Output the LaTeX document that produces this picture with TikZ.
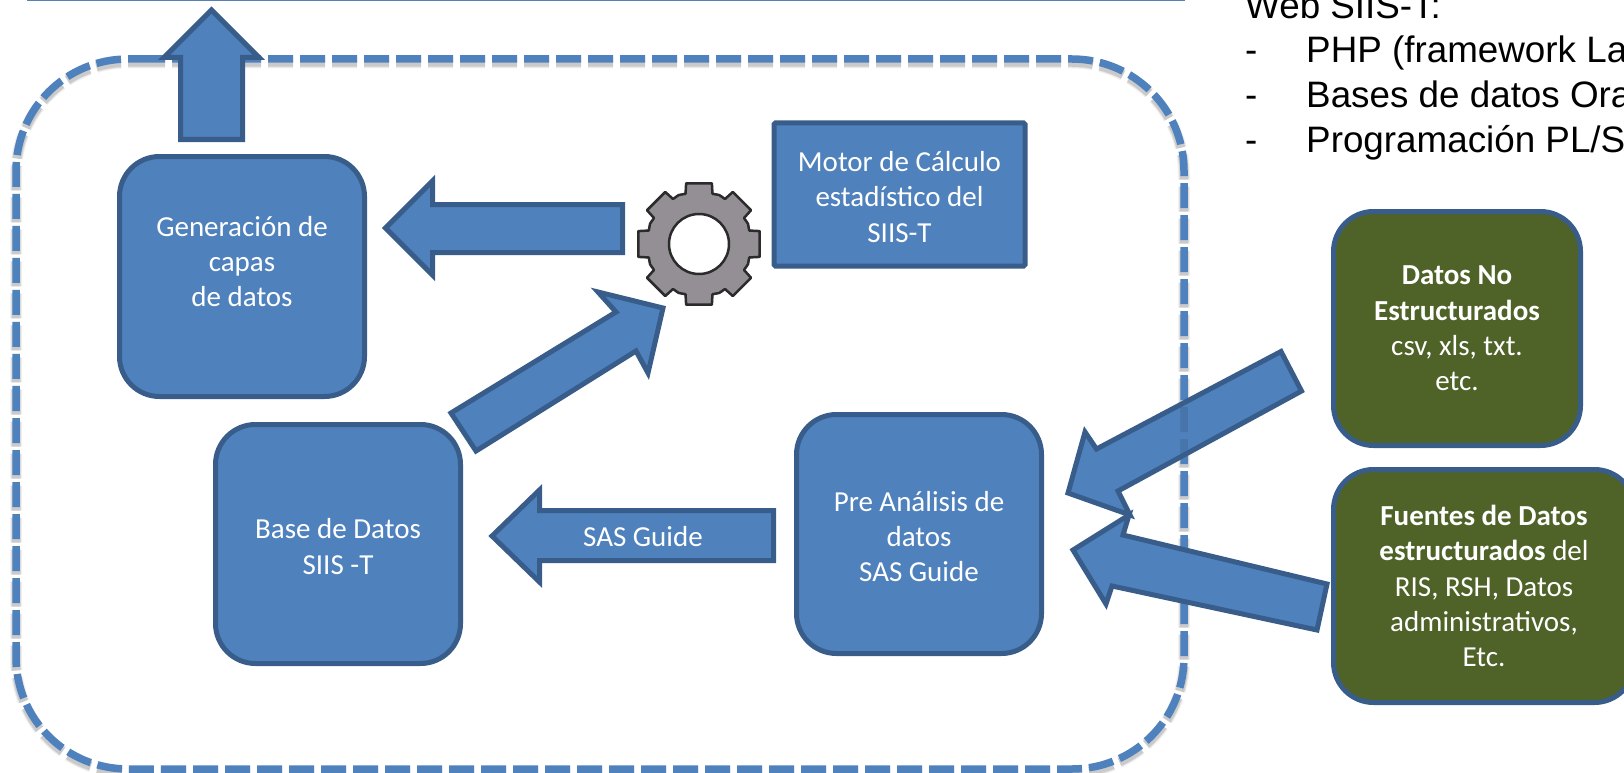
\documentclass[tikz,border=0pt]{standalone}
\usepackage{fontspec}
\setmainfont{Carlito}
\newfontfamily\arialf{Liberation Sans}
\definecolor{blueF}{HTML}{4F81BD}
\definecolor{blueD}{HTML}{385D8A}
\definecolor{olive}{HTML}{4F6228}
\definecolor{gearF}{HTML}{938F94}
\definecolor{gearD}{HTML}{2B2B2B}
\newcommand{\firststrut}{\rule{0pt}{25pt}}
\tikzset{
 x=1pt,y=-1pt,
 bluebox/.style={draw=blueD,line width=5pt,fill=blueF,text=white,rounded corners=40pt,align=center,inner sep=0pt,font=\fontsize{29}{35.3}\selectfont},
 olivebox/.style={bluebox,fill=olive},
 motorbox/.style={bluebox,rounded corners=1.5pt},
 blockarrow/.style={draw=blueD,line width=5pt,fill=blueF,miter limit=10},
 framedash/.style={dash pattern=on 25pt off 7pt},
 lbl/.style={text=white,font=\fontsize{29}{35.3}\selectfont,inner sep=0pt},
 webtext/.style={font=\arialf\fontsize{36.8}{44}\selectfont,anchor=base west,inner sep=0pt,text=black},
}
\newcommand{\framecurve}[1]{(140,59+#1) -- (1072,59+#1) .. controls (1134,59+#1) and (1184,109+#1) .. (1184,171+#1) -- (1184,657+#1) .. controls (1184,719+#1) and (1134,769+#1) .. (1072,769+#1) -- (128,769+#1) .. controls (66,769+#1) and (16,719+#1) .. (16,657+#1) -- (16,171+#1) .. controls (16,109+#1) and (66,59+#1) .. (128,59+#1) -- (140,59+#1)}
\begin{document}
\begin{tikzpicture}
\useasboundingbox (0,0) rectangle (1624,773);
% top rule
\coordinate (ruleA) at (27,0.6);
\coordinate (ruleB) at (1185,0.6);
\draw[blueF!85!gray,line width=1.6pt] (ruleA) -- (ruleB);
% dashed frame with soft shadow
\foreach \w/\o in {12/.05,10/.07,8.5/.10}{
 \draw[black,opacity=\o,line width=\w pt,framedash] \framecurve{3.5};
}
\draw[blueF,line width=7.5pt,framedash] \framecurve{0};
% boxes
\node[bluebox,minimum width=245pt,minimum height=240pt] (gen) at (242,276.5) {\firststrut Generación de\\capas\\de datos\\~};
\node[bluebox,minimum width=245pt,minimum height=239pt] (base) at (338,544) {\firststrut Base de Datos\\SIIS -T};
\node[bluebox,minimum width=245pt,minimum height=239pt] (pre) at (919,534) {\firststrut Pre Análisis de\\datos\\SAS Guide};
\node[motorbox,minimum width=251pt,minimum height=143pt] (motor) at (899.5,194.5) {\firststrut Motor de Cálculo\\estadístico del\\SIIS-T};
\node[olivebox,minimum width=247pt,minimum height=234pt] (datos) at (1457,328.5) {\textbf{Datos No}\\\textbf{Estructurados}\\csv, xls, txt.\\etc.};
\node[olivebox,minimum width=301pt,minimum height=233pt] (fuentes) at (1484,586) {\textbf{Fuentes de Datos}\\\textbf{estructurados} del\\RIS, RSH, Datos\\administrativos,\\Etc.};
% up arrow
\draw[blockarrow] (211.5,10) -- (259,57.5) -- (242.5,57.5) -- (242.5,139.5) -- (180.5,139.5) -- (180.5,57.5) -- (164,57.5) -- cycle;
% arrow gear to generacion
\draw[blockarrow] (385.5,228) -- (432.5,181) -- (432.5,204.5) -- (622.5,204.5) -- (622.5,252.5) -- (432.5,252.5) -- (432.5,275) -- cycle;
% diagonal arrow
\draw[blockarrow] (451,413) -- (616,312) -- (598,292) -- (663,308) -- (648,373) -- (636,351) -- (476,451) -- cycle;
% SAS arrow
\draw[blockarrow] (492,536) -- (539.5,490) -- (539.5,510.5) -- (773.5,510.5) -- (773.5,560.5) -- (539.5,560.5) -- (539.5,582) -- cycle;
\node[lbl] (saslabel) at (643,537) {SAS Guide};
% right arrows
\draw[blockarrow] (1281,351.5) -- (1301.5,391) -- (1118,491) -- (1130,515) -- (1068,493) -- (1085,432) -- (1096.5,449) -- cycle;
\begin{scope}
\clip (1281,351.5) -- (1301.5,391) -- (1118,491) -- (1130,515) -- (1068,493) -- (1085,432) -- (1096.5,449) -- cycle;
\draw[blueD,opacity=.35,line width=7.5pt,framedash] \framecurve{0};
\end{scope}
\draw[blockarrow] (1327,584) -- (1317,630) -- (1112,586) -- (1106,604) -- (1073,550) -- (1129,515) -- (1123,535) -- cycle;
% gear
\begin{scope}[shift={(699,244)}]
\draw[draw=gearD,fill=gearF,line width=2.5pt,line join=round] (-12:62) -- (12:62) -- (15:52) -- (22.5:53) -- (30:52) -- (33:62) -- (57:62) -- (60:52) -- (67.5:53) -- (75:52) -- (78:62) -- (102:62) -- (105:52) -- (112.5:53) -- (120:52) -- (123:62) -- (147:62) -- (150:52) -- (157.5:53) -- (165:52) -- (168:62) -- (192:62) -- (195:52) -- (202.5:53) -- (210:52) -- (213:62) -- (237:62) -- (240:52) -- (247.5:53) -- (255:52) -- (258:62) -- (282:62) -- (285:52) -- (292.5:53) -- (300:52) -- (303:62) -- (327:62) -- (330:52) -- (337.5:53) -- (345:52) -- cycle;
\node[circle,draw=gearD,fill=white,line width=2.5pt,minimum size=60pt,inner sep=0pt] (gearhole) at (0,0) {};
\end{scope}
% web text
\node[webtext] (web) at (1245,19) {Web SIIS-T:};
\node[webtext] (d1) at (1245,63) {-};
\node[webtext] (l1) at (1306,63) {PHP (framework La};
\node[webtext] (d2) at (1245,108) {-};
\node[webtext] (l2) at (1306,108) {Bases de datos Ora};
\node[webtext] (d3) at (1245,153) {-};
\node[webtext] (l3) at (1306,153) {Programación PL/S};
\end{tikzpicture}
\end{document}
